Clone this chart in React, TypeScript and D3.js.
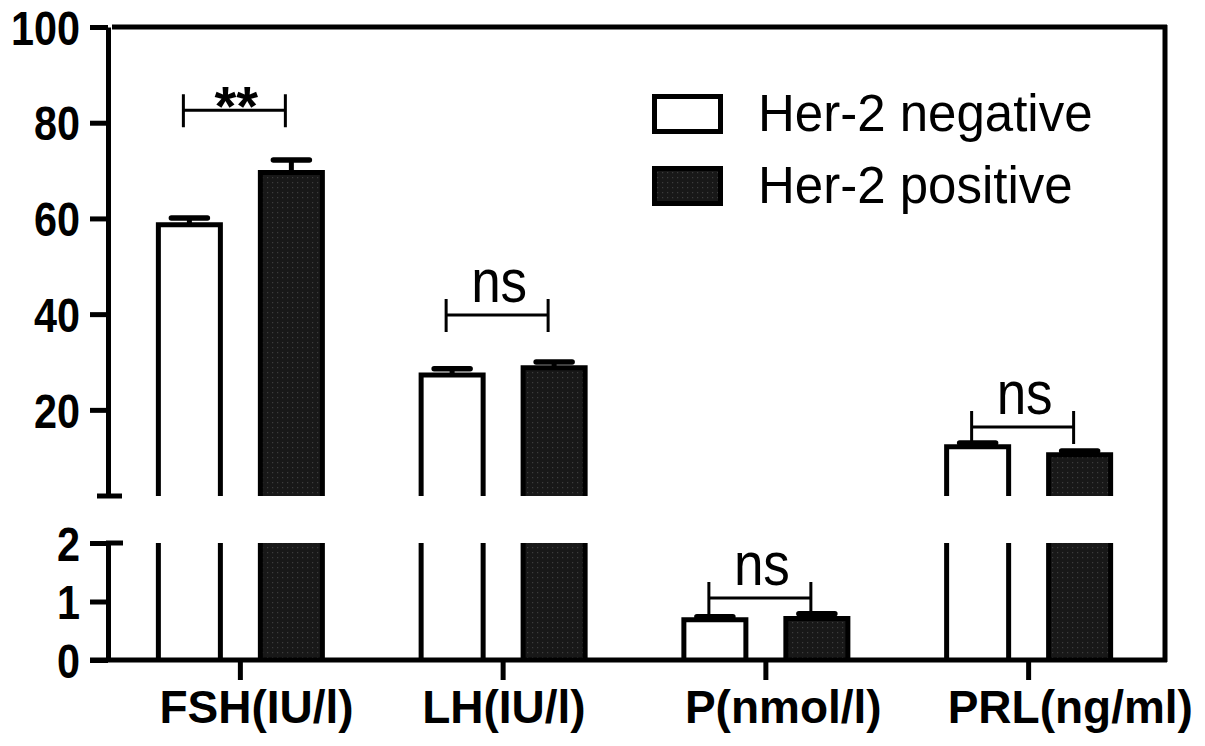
import React, { useEffect, useRef } from "react";
import * as d3 from "d3";

const categories = ["FSH(IU/l)", "LH(IU/l)", "P(nmol/l)", "PRL(ng/ml)"];
const series = ["Her-2 negative", "Her-2 positive"];
const negMean = [58.7, 27.3, 0.69, 12.3];
const negErr = [1.4, 1.3, 0.05, 0.8];
const posMean = [69.6, 28.8, 0.71, 10.6];
const posErr = [2.6, 1.2, 0.08, 0.8];
const sigLabels = ["**", "ns", "ns", "ns"];
const sigLevel = [82.6, 39.8, 1.06, 16.4];
const upperTicks = [20, 40, 60, 80, 100];
const lowerTicks = [0, 1, 2];
const breakAt = 2;

const W = 1205;
const H = 746;
const FONT = "'Liberation Sans', Arial, Helvetica, sans-serif";

export default function App() {
  const ref = useRef<SVGSVGElement | null>(null);

  useEffect(() => {
    const svg = d3.select(ref.current);
    svg.selectAll("*").remove();

    const defs = svg.append("defs");
    const pat = defs
      .append("pattern")
      .attr("id", "dots")
      .attr("width", 5)
      .attr("height", 5)
      .attr("patternUnits", "userSpaceOnUse");
    pat.append("rect").attr("width", 5).attr("height", 5).attr("fill", "#181818");
    pat.append("rect").attr("x", 2).attr("y", 2).attr("width", 1.2).attr("height", 1.2).attr("fill", "#3c3c3c");

    const x = d3.scaleBand<string>().domain(categories).range([109, 1160]).padding(0);
    const x1 = d3.scaleBand<string>().domain(series).range([-82, 82]).paddingInner(0.392);
    const yU = d3.scaleLinear().domain([breakAt, 100]).range([496, 27]);
    const yL = d3.scaleLinear().domain([0, breakAt]).range([660, 543]);
    const yAny = (v: number) => (v > breakAt ? yU(v) : yL(v));

    const g = svg.append("g");

    // frame top and right
    g.append("line").attr("x1", 112).attr("x2", 1167).attr("y1", 27).attr("y2", 27)
      .attr("stroke", "#000").attr("stroke-width", 5);
    g.append("line").attr("x1", 1165).attr("x2", 1165).attr("y1", 25).attr("y2", 662)
      .attr("stroke", "#000").attr("stroke-width", 5);

    // bars
    const bars = g.append("g");
    categories.forEach((c, i) => {
      const cx = (x(c) as number) + x.bandwidth() / 2;
      series.forEach((s, j) => {
        const v = j === 0 ? negMean[i] : posMean[i];
        const e = j === 0 ? negErr[i] : posErr[i];
        const bx = cx + (x1(s) as number);
        const bw = x1.bandwidth();
        const filled = j === 1;
        const segs: [number, number, boolean][] = [];
        if (v > breakAt) {
          segs.push([yL(breakAt), yL(0), false]);
          segs.push([yU(v), yU(breakAt), true]);
        } else {
          segs.push([yL(v), yL(0), true]);
        }
        segs.forEach(([top, bottom, hasTop]) => {
          if (filled) {
            bars.append("rect").attr("x", bx).attr("y", top).attr("width", bw).attr("height", bottom - top)
              .attr("fill", "url(#dots)");
          }
          const p = hasTop
            ? `M${bx},${bottom}V${top}H${bx + bw}V${bottom}`
            : `M${bx},${bottom}V${top}M${bx + bw},${top}V${bottom}`;
          bars.append("path").attr("d", p).attr("fill", "none").attr("stroke", "#000").attr("stroke-width", 5);
        });
        // error bar (upper whisker)
        const mx = bx + bw / 2;
        const yTop = yAny(v);
        const yCap = yAny(v + e);
        bars.append("line").attr("x1", mx).attr("x2", mx).attr("y1", yTop).attr("y2", yCap)
          .attr("stroke", "#000").attr("stroke-width", 5);
        bars.append("line").attr("x1", mx - 18).attr("x2", mx + 18).attr("y1", yCap).attr("y2", yCap)
          .attr("stroke", "#000").attr("stroke-width", 5.5).attr("stroke-linecap", "round");
      });
    });

    // y axes
    const styleAxis = (sel: any) => {
      sel.select(".domain").attr("stroke", "#000").attr("stroke-width", 5);
      sel.selectAll(".tick line").attr("stroke", "#000").attr("stroke-width", 5);
      sel.selectAll(".tick text")
        .attr("fill", "#000")
        .attr("font-family", FONT)
        .attr("font-weight", "bold")
        .attr("font-size", 48)
        .attr("dy", "0.36em")
        .attr("textLength", (d: any) => String(d).length * 23)
        .attr("lengthAdjust", "spacingAndGlyphs");
    };
    const axU = g.append("g").attr("transform", "translate(108,0)")
      .call(d3.axisLeft(yU).tickValues(upperTicks).tickSize(18).tickSizeOuter(0).tickPadding(10).tickFormat(d3.format("d")));
    styleAxis(axU);
    const axL = g.append("g").attr("transform", "translate(108,0)")
      .call(d3.axisLeft(yL).tickValues(lowerTicks).tickSize(18).tickSizeOuter(0).tickPadding(10).tickFormat(d3.format("d")));
    styleAxis(axL);
    // break caps
    g.append("line").attr("x1", 97).attr("x2", 122).attr("y1", yU(breakAt)).attr("y2", yU(breakAt))
      .attr("stroke", "#000").attr("stroke-width", 5);
    g.append("line").attr("x1", 106).attr("x2", 123).attr("y1", yL(breakAt)).attr("y2", yL(breakAt))
      .attr("stroke", "#000").attr("stroke-width", 5);

    // x axis
    g.append("line").attr("x1", 90).attr("x2", 1167).attr("y1", 660).attr("y2", 660)
      .attr("stroke", "#000").attr("stroke-width", 5);
    const axX = g.append("g").attr("transform", "translate(0,660)")
      .call(d3.axisBottom(x).tickSize(20).tickSizeOuter(0));
    axX.select(".domain").remove();
    axX.selectAll(".tick line").attr("stroke", "#000").attr("stroke-width", 5);
    axX.selectAll(".tick text")
      .attr("fill", "#000")
      .attr("font-family", FONT)
      .attr("font-weight", "bold")
      .attr("font-size", 46)
      .attr("text-anchor", "start")
      .attr("x", -81)
      .attr("y", 63)
      .attr("dy", 0);

    // significance brackets
    categories.forEach((c, i) => {
      const cx = (x(c) as number) + x.bandwidth() / 2;
      const l = cx + (x1(series[0]) as number) + x1.bandwidth() / 2 - 6;
      const r = cx + (x1(series[1]) as number) + x1.bandwidth() / 2 - 6;
      const hy = yAny(sigLevel[i]);
      g.append("path")
        .attr("d", `M${l},${hy - 16}V${hy + 17}M${l},${hy}H${r}M${r},${hy - 16}V${hy + 17}`)
        .attr("fill", "none").attr("stroke", "#000").attr("stroke-width", 3);
      const lab = sigLabels[i];
      const t = g.append("text")
        .attr("x", (l + r) / 2 + 2)
        .attr("text-anchor", "middle")
        .attr("font-family", FONT)
        .attr("fill", "#000")
        .text(lab);
      if (lab === "**") {
        t.attr("y", hy + 15).attr("font-size", 56).attr("font-weight", "bold");
      } else {
        t.attr("y", hy - 13).attr("font-size", 62)
          .attr("textLength", 56).attr("lengthAdjust", "spacingAndGlyphs");
      }
    });

    // legend
    const leg = g.append("g");
    series.forEach((s, j) => {
      const ly = 96.5 + j * 72;
      leg.append("rect").attr("x", 654.5).attr("y", ly).attr("width", 66).attr("height", 35)
        .attr("fill", j === 0 ? "#fff" : "url(#dots)").attr("stroke", "#000").attr("stroke-width", 5);
      leg.append("text").attr("x", 758).attr("y", ly + 34)
        .attr("font-family", FONT).attr("font-size", 51).attr("fill", "#000")
        .text(s);
    });
  }, []);

  return (
    <svg
      ref={ref}
      width={W}
      height={H}
      viewBox={`0 0 ${W} ${H}`}
      style={{ position: "absolute", left: 0, top: 0, background: "#fff" }}
    />
  );
}
